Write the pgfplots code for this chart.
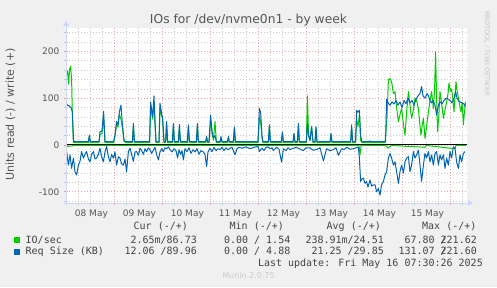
\documentclass[border=0pt]{standalone}
\usepackage{pgfplots}
\pgfplotsset{compat=1.18}
\usepackage{fontspec}
\setmainfont{DejaVu Sans}
\newfontfamily\monofont{DejaVu Sans Mono}
\definecolor{bg}{HTML}{F0F0F0}
\definecolor{fontc}{HTML}{555555}
\definecolor{legc}{HTML}{444444}
\definecolor{axisc}{HTML}{CFD6F8}
\definecolor{mgrid}{HTML}{F0A0A0}
\definecolor{sgrid}{HTML}{C8C8C8}
\definecolor{iog}{HTML}{00CC00}
\definecolor{rsb}{HTML}{0066B3}
\begin{document}
\begin{tikzpicture}[x=1pt,y=1pt]
\fill[bg] (0,0) rectangle (497,287);
\begin{axis}[
 at={(66pt,84pt)}, anchor=south west, scale only axis,
 width=401pt, height=175pt,
 xmin=0, xmax=200.5, ymin=-124, ymax=250,
 axis line style={draw=none},
 axis background/.style={fill=white},
 tick pos=left, tick align=center,
 major tick length=3pt, minor tick length=3pt,
 major tick style={mgrid, line width=0.6pt},
 minor tick style={sgrid, line width=0.6pt},
 xtick={24,48,...,192}, xticklabels={},
 minor xtick={6,12,18,30,36,42,54,60,66,78,84,90,102,108,114,126,132,138,150,156,162,174,180,186,198},
 ytick={-100,0,100,200}, yticklabels={-100,0,100,200},
 minor ytick={-120,-80,-60,-40,-20,20,40,60,80,120,140,160,180,220,240},
 grid=both,
 major grid style={mgrid, dash pattern=on 1pt off 2pt, line width=0.6pt},
 minor grid style={sgrid, dash pattern=on 1pt off 2pt, line width=0.6pt},
 extra x ticks={12.7,36.7,60.7,84.7,108.7,132.7,156.7,180.7},
 extra x tick labels={08 May,09 May,10 May,11 May,12 May,13 May,14 May,15 May},
 extra x tick style={grid=none, major tick length=0pt},
 xticklabel style={font=\fontsize{9}{10}\selectfont, text=fontc, anchor=base, inner sep=0pt, yshift=-13.5pt},
 yticklabel style={font=\fontsize{9}{10}\selectfont, text=fontc, anchor=east, inner sep=0pt, xshift=-5pt},
 line join=round,
]
% IO/sec read (-)
\addplot[iog, line width=1pt] coordinates {(0.3,-3) (3,-2) (4,-1) (146.5,-1) (147,-21) (147.6,-1) (160,-1) (161,-7) (162,-3) (163,-1) (179.5,-5) (180,-1) (194.5,-8) (195,-1) (200,-1)};
% IO/sec write (+)
\addplot[iog, line width=1pt] coordinates {
(0.3,150) (0.8,158) (1.3,130) (1.8,162) (2.3,168) (2.8,140) (3.2,60) (3.7,5)
(11.2,5) (11.7,18) (12.2,5)
(16.5,5) (17,22) (18,25) (18.8,60) (19.5,5)
(23.8,5) (24.5,18) (25.3,45) (26,38) (26.7,65) (27.5,55) (28.2,38) (29,8) (30,5)
(33.2,5) (33.7,40) (34.2,5)
(41.8,5) (42.3,85) (43.3,55) (44,90) (44.5,45) (45,5)
(46.5,5) (47,80) (47.7,65) (48.3,55) (49,5)
(49.8,5) (50.3,45) (50.8,5)
(53.2,5) (53.7,40) (54.2,5)
(56.2,5) (56.7,38) (57.2,5)
(60.7,5) (61.2,38) (61.7,5)
(65.2,5) (65.7,40) (66.2,5)
(69.8,5) (70.3,15) (70.8,5)
(71.5,5) (72.3,55) (73,25) (73.7,10) (74.5,50) (75.2,5)
(77,5) (77.5,15) (78,5)
(80.7,5) (81.2,15) (81.7,5)
(83.7,5) (84.2,35) (84.7,5)
(96,5) (96.7,60) (97.3,50) (98,15) (98.5,5)
(101.2,5) (101.7,38) (102.2,5)
(107.7,5) (108.2,25) (108.7,5)
(113.5,5) (114,22) (114.5,5)
(115.7,5) (116.2,40) (116.7,5)
(120.2,5) (120.7,105) (121.3,20) (122,10) (122.8,39) (123.5,5)
(124.5,5) (125,35) (125.5,5)
(132,5) (132.5,22) (133,5)
(142.3,5) (142.8,38) (143.3,5)
(144.8,5) (145.3,55) (146,40) (146.7,65) (147.3,10) (148,5)
(159.5,5) (160.5,60) (161.2,139) (162,142) (162.8,135) (163.7,110) (164.5,114) (165.3,80) (166.2,50) (167,65) (167.8,78) (168.7,45) (169.5,21) (170.3,70) (171.2,114) (172,85) (172.8,57) (173.7,75) (174.5,100) (175.3,95) (176.2,78) (177,40) (177.5,21) (178.2,45) (178.7,57) (179.5,14) (180.3,40) (181.2,71) (182,95) (182.8,114) (183.7,78) (184.3,120) (184.8,199) (185.3,100) (185.8,28) (186.5,70) (187,114) (187.8,90) (188.7,57) (189.5,75) (190.3,92) (191,110) (191.5,132) (192.2,115) (192.8,120) (193.5,95) (194,71) (194.6,110) (195,135) (195.6,115) (196.2,100) (196.8,85) (197.5,71) (198.1,90) (198.7,43) (199.2,70) (199.8,92)
};
% Req Size read (-)
\addplot[rsb, line width=1pt] coordinates {
(0.3,-14) (1.2,-43) (2,-21) (2.8,-50) (3.7,-28) (4.5,-57) (5.3,-64) (6.2,-43) (7,-35) (7.8,-14) (8.7,-28) (9.5,-20) (10.3,-14) (11.2,-30) (12,-36) (12.8,-20) (13.7,-14) (14.5,-30) (15.3,-28) (16.2,-20) (17,-7) (17.8,-25) (18.7,-36) (19.5,-15) (20.3,-3) (21.2,-25) (22,-36) (22.8,-20) (23.7,-28) (24.5,-15) (25.3,-43) (26.2,-25) (27,-28) (27.8,-40) (28.7,-43) (29.5,-30) (30.3,-57) (31.2,-14) (32,-7) (32.8,-20) (33.7,-35) (34.5,-15) (35.3,-14) (36.2,-22) (37,-7) (37.8,-12) (38.7,-20) (39.5,-8) (40.3,-14) (41.2,-6) (42,-10) (42.8,-18) (43.7,-11) (44.5,-5) (45.3,-20) (46.2,-32) (47,-15) (47.8,-8) (48.7,-14) (49.5,-6) (50.3,-8) (51.2,-4) (52,-10) (53,-15) (54,-8) (55,-12) (55.8,-28) (56.5,-10) (57.3,-20) (58,-12) (58.7,-32) (59.5,-8) (60.5,-14) (61.5,-6) (62.5,-18) (63.5,-10) (64.5,-15) (65.5,-8) (66.5,-20) (67.5,-12) (68.7,-15) (69.5,-20) (70.3,-46) (71,-15) (72,-7) (73,-14) (74,-5) (75,-12) (76,-8) (77,-10) (78,-5) (79,-12) (80,-6) (81,-10) (82,-7) (83,-5) (84.5,-21) (85.5,-8) (86.5,-5) (88,-7) (90,-4) (92,-8) (94,-5) (96,-3) (96.7,-14) (98,-7) (99,-12) (100,-5) (101,-4) (102,-8) (103,-6) (103.7,-12) (105.3,-5) (106.5,-9) (107.8,-37) (108.7,-8) (110,-12) (111,-6) (112,-10) (113.5,-7) (115.3,-5) (117,-9) (118.7,-12) (120,-6) (122,-6) (123.5,-11) (125.3,-10) (127,-6) (128.7,-34) (130.3,-8) (132,-12) (133.7,-10) (135,-6) (136.2,-22) (137.8,-8) (139,-10) (140.3,-5) (142,-9) (143.7,-8) (145,-6) (146.2,-5) (146.7,-28) (147.3,-78) (148,-72) (148.7,-71) (149.5,-82) (150.3,-78) (151,-90) (152,-75) (152.8,-88) (153.7,-85) (154.5,-85) (155.3,-100) (156.2,-93) (157,-107) (157.8,-85) (158.7,-78) (159.5,-64) (160.3,-57) (161.2,-28) (162,-18) (162.8,-28) (163.7,-43) (164.5,-36) (165.3,-57) (166.2,-82) (167,-57) (167.8,-43) (168.7,-60) (169.5,-36) (170.3,-28) (171.2,-25) (172,-57) (172.8,-43) (173.7,-14) (174.5,-28) (175.3,-21) (176.2,-11) (177,-43) (177.8,-78) (178.7,-43) (179.5,-18) (180.3,-28) (181.2,-14) (182,-36) (182.8,-21) (183.7,-43) (184.5,-18) (185.3,-14) (186.2,-43) (187,-21) (187.8,-32) (188.7,-21) (189.5,-50) (190.3,-28) (191.2,-43) (192,-14) (192.8,-28) (193.7,-4) (194.5,-7) (195.3,-36) (196.2,-50) (197,-21) (197.8,-36) (198.7,-18) (199.5,-14)
};
% Req Size write (+)
\addplot[rsb, line width=1pt] coordinates {
(0.2,88) (0.8,85) (1.5,84) (2.5,80) (3.2,70) (3.8,7)
(11.2,7) (11.7,21) (12.2,7)
(16.5,7) (17,28) (18,30) (18.8,72) (19.5,7)
(23.8,7) (24.5,21) (25.3,50) (26,43) (26.7,71) (27.5,85) (28.2,43) (29,10) (30,7)
(33.2,7) (33.7,46) (34.2,7)
(41.8,7) (42.3,92) (43.3,60) (44,105) (44.5,50) (45,7)
(46.5,7) (47,89) (47.7,70) (48.3,57) (49,7)
(49.8,7) (50.3,50) (50.8,7)
(53.2,7) (53.7,46) (54.2,7)
(56.2,7) (56.7,44) (57.2,7)
(60.7,7) (61.2,43) (61.7,7)
(65.2,7) (65.7,46) (66.2,7)
(69.8,7) (70.3,18) (70.8,7)
(71.5,7) (72.3,64) (73,30) (73.7,15) (74.5,20) (75.2,7)
(77,7) (77.5,18) (78,7)
(80.7,7) (81.2,18) (81.7,7)
(83.7,7) (84.2,39) (84.7,7)
(96,7) (96.7,78) (97.3,70) (98,20) (98.5,7)
(101.2,7) (101.7,43) (102.2,7)
(107.7,7) (108.2,28) (108.7,7)
(113.5,7) (114,25) (114.5,7)
(115.7,7) (116.2,46) (116.7,7)
(120.2,7) (120.7,46) (121.3,20) (122,10) (122.8,39) (123.5,7)
(124.5,7) (125,39) (125.5,7)
(132,7) (132.5,25) (133,7)
(142.3,7) (142.8,43) (143.3,7)
(144.8,7) (145.3,74) (146,70) (146.7,74) (147.3,20) (148,7)
(151.5,7) (152,9) (152.5,7)
(159.8,7) (160.3,98) (161,90) (162,85) (163,92) (164,88) (165,95) (166,85) (167,92) (168,80) (169,95) (170,88) (171,100) (172,90) (173,95) (174,85) (175,98) (176,105) (177,110) (177.8,125) (178.5,105) (179.5,100) (180.5,110) (181.2,105) (182,95) (182.8,90) (183.5,95) (184.5,85) (185.3,64) (186.2,85) (187,92) (188,88) (189,95) (190,100) (191,98) (192,95) (193,90) (194,100) (194.8,114) (195.5,100) (196.2,95) (197,92) (198,90) (199,88) (199.5,82)
};
\addplot[black, line width=1pt] coordinates {(0,0) (200.5,0)};
\end{axis}
% axes with arrows
\draw[axisc, line width=1pt] (66,82) -- (66,261);
\fill[axisc] (63,261) -- (69,261) -- (66,266) -- cycle;
\draw[axisc, line width=1pt] (64,84) -- (468,84);
\fill[axisc] (468,81) -- (468,87) -- (473,84) -- cycle;
% title and labels
\node[anchor=base, text=fontc, inner sep=0pt, font=\fontsize{12.3}{14}\selectfont] at (248.5,263) {IOs for /dev/nvme0n1 - by week};
\node[rotate=90, anchor=center, text=fontc, inner sep=0pt, font=\fontsize{11}{13}\selectfont] at (10.5,172.5) {Units read (-) / write (+)};
\node[rotate=-90, anchor=center, text=black!22, inner sep=0pt, font=\fontsize{6.6}{8}\selectfont] at (487,233.5) {RRDTOOL / TOBI OETIKER};
% legend
\begin{scope}[every node/.style={inner sep=0pt, text=legc, font=\monofont\fontsize{10}{12}\selectfont}]
\node[anchor=base west] at (133.5,57.5) {Cur (-/+)};
\node[anchor=base west] at (229.5,57.5) {Min (-/+)};
\node[anchor=base west] at (326.5,57.5) {Avg (-/+)};
\node[anchor=base west] at (422,57.5) {Max (-/+)};
\fill[iog] (14,43.7) rectangle (20,49.7);
\fill[rsb] (14,32.3) rectangle (20,38.3);
\node[anchor=base west] at (25.5,44) {IO/sec};
\node[anchor=base west] at (25.5,32.5) {Req Size (KB)};
\node[anchor=base east] at (197,44) {2.65m/86.73};
\node[anchor=base east] at (197,32.5) {12.06 /89.96};
\node[anchor=base east] at (290.5,44) {0.00 / 1.54};
\node[anchor=base east] at (290.5,32.5) {0.00 / 4.88};
\node[anchor=base east] at (384,44) {238.91m/24.51};
\node[anchor=base east] at (384,32.5) {21.25 /29.85};
\node[anchor=base east] at (477,44) {67.80 \rlap{/}221.62};
\node[anchor=base east] at (477,32.5) {131.07 \rlap{/}221.60};
\node[anchor=base east] at (483,21) {Last update: Fri May 16 07:30:26 2025};
\end{scope}
\node[anchor=base, inner sep=0pt, text=black!20, font=\fontsize{8}{9}\selectfont] at (248.5,8.5) {Munin 2.0.75};
\end{tikzpicture}
\end{document}
